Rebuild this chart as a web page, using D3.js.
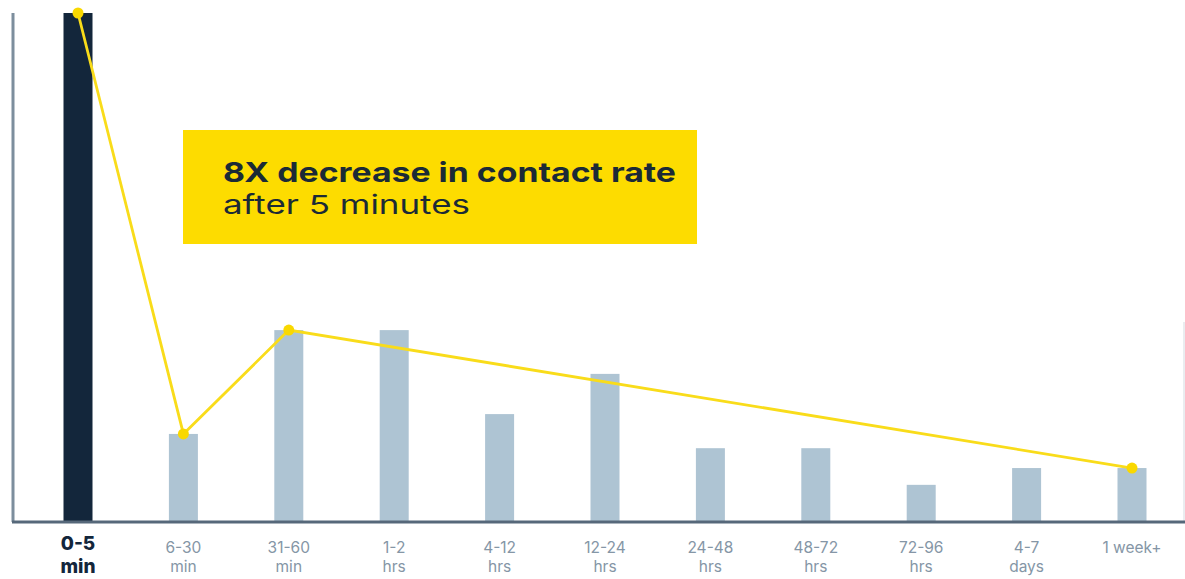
<!DOCTYPE html>
<html><head><meta charset="utf-8">
<script src="https://cdn.jsdelivr.net/npm/d3@7"></script>
<style>html,body{margin:0;padding:0;background:#fff;}svg{display:block;}</style>
</head><body>
<svg id="chart" width="1185" height="579"></svg>
<script>
const categories = ["0-5 min","6-30 min","31-60 min","1-2 hrs","4-12 hrs","12-24 hrs","24-48 hrs","48-72 hrs","72-96 hrs","4-7 days","1 week+"];
const labelTop = ["0-5","6-30","31-60","1-2","4-12","12-24","24-48","48-72","72-96","4-7","1 week+"];
const labelBottom = ["min","min","min","hrs","hrs","hrs","hrs","hrs","hrs","days",""];
const contactRate = [100, 17.3, 37.7, 37.7, 21.2, 29.1, 14.5, 14.5, 7.3, 10.6, 10.6];
const trendIdx = [0, 1, 2, 10];
const annotationLines = ["8X decrease in contact rate", "after 5 minutes"];

const svg = d3.select("#chart");
const baseY = 522, topY = 13;
const x = d3.scalePoint().domain(categories).range([78, 1132]);
const y = d3.scaleLinear().domain([0, 100]).range([baseY, topY]);
const barW = 29;

// right faint edge
svg.append("line").attr("x1",1184).attr("x2",1184).attr("y1",322).attr("y2",baseY)
  .attr("stroke","#e3e7eb").attr("stroke-width",1.5);

// bars
svg.selectAll("rect.bar").data(categories).enter().append("rect")
  .attr("class","bar")
  .attr("x", d => x(d) - barW/2)
  .attr("width", barW)
  .attr("y", (d,i) => y(contactRate[i]))
  .attr("height", (d,i) => baseY - y(contactRate[i]))
  .attr("fill", (d,i) => i === 0 ? "#13263b" : "#aec4d3");

// axes
svg.append("line").attr("x1",13).attr("x2",13).attr("y1",topY).attr("y2",baseY)
  .attr("stroke","#7d8e9d").attr("stroke-width",3);
svg.append("line").attr("x1",12).attr("x2",1185).attr("y1",baseY).attr("y2",baseY)
  .attr("stroke","#56687a").attr("stroke-width",3);

// annotation
svg.append("rect").attr("x",183).attr("y",130).attr("width",514).attr("height",114).attr("fill","#fddc00");
svg.append("text").attr("x",223).attr("y",182).text(annotationLines[0])
  .attr("font-family","Inter, 'DejaVu Sans', sans-serif").attr("font-weight",700)
  .attr("font-size",27.5).attr("fill","#1b2a36").attr("textLength",453).attr("lengthAdjust","spacingAndGlyphs");
svg.append("text").attr("x",223).attr("y",214).text(annotationLines[1])
  .attr("font-family","Inter, 'DejaVu Sans', sans-serif").attr("font-weight",400)
  .attr("font-size",26).attr("fill","#1b2a36").attr("textLength",247).attr("lengthAdjust","spacingAndGlyphs");

// trend line
const trend = trendIdx.map(i => [x(categories[i]), y(contactRate[i])]);
svg.append("path").attr("d", d3.line()(trend)).attr("fill","none")
  .attr("stroke","#f9dc1a").attr("stroke-width",2.8);
svg.selectAll("circle.pt").data(trend).enter().append("circle")
  .attr("cx", d => d[0]).attr("cy", d => d[1]).attr("r",5.5).attr("fill","#f9d800");

// x labels
const lab = svg.append("g").attr("font-family","Inter, 'DejaVu Sans', sans-serif").attr("text-anchor","middle");
categories.forEach((c,i) => {
  const first = i === 0;
  lab.append("text").attr("x", x(c)).attr("y", first ? 550 : 553).text(labelTop[i])
    .attr("font-size", first ? 19 : 15.5).attr("font-weight", first ? 800 : 400)
    .attr("fill", first ? "#13263b" : "#8596a6");
  if (labelBottom[i]) lab.append("text").attr("x", x(c)).attr("y", first ? 573 : 572).text(labelBottom[i])
    .attr("font-size", first ? 19 : 15.5).attr("font-weight", first ? 800 : 400)
    .attr("fill", first ? "#13263b" : "#8596a6");
});
</script>
</body></html>
